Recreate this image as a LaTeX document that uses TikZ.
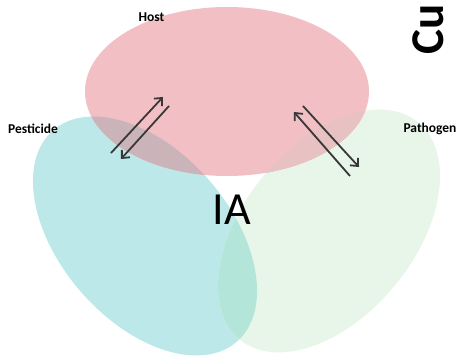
\documentclass[tikz,border=0pt]{standalone}
\usepackage{fontspec}
\setmainfont{Carlito}
\usetikzlibrary{arrows.meta}
\definecolor{hostc}{HTML}{F2C0C4}
\definecolor{pestc}{HTML}{BDE8EA}
\definecolor{pathc}{HTML}{E8F5E9}
\definecolor{hpc}{HTML}{CBB4B9}
\definecolor{hgc}{HTML}{E8C2C3}
\definecolor{pgc}{HTML}{B3E6D8}
\definecolor{arrc}{HTML}{383838}
\tikzset{
  lbl/.style={font=\bfseries\fontsize{13.5}{14}\selectfont, inner sep=0pt},
  flow/.style={draw=arrc, line width=1.8pt, -{Straight Barb[length=6pt,width=11pt]}}
}
\def\hostpath{(227,91.5) ellipse [x radius=142pt, y radius=84.5pt]}
\def\pestpath{[rotate around={-49:(145,236)}] (145,236) ellipse [x radius=140pt, y radius=85pt]}
\def\pathpath{[rotate around={50.6:(329,231)}] (329,231) ellipse [x radius=140.5pt, y radius=85.5pt]}
\begin{document}
\begin{tikzpicture}[x=1pt,y=-1pt]
\useasboundingbox (0,0) rectangle (459,358);
\fill[white] (0,0) rectangle (459,358);
% base shapes
\fill[pestc] \pestpath;
\fill[pathc] \pathpath;
\fill[hostc] \hostpath;
% overlaps
\begin{scope}
  \clip \pestpath;
  \fill[hpc] \hostpath;
\end{scope}
\begin{scope}
  \clip \pathpath;
  \fill[hgc] \hostpath;
\end{scope}
\begin{scope}
  \clip \pestpath;
  \fill[pgc] \pathpath;
\end{scope}
% labels
\node[lbl] (host) at (151.5,17) {Host};
\node[lbl] (pest) at (33,129) {Pesticide};
\node[lbl] (path) at (430,129) {Pathogen};
\node[inner sep=0pt, font=\fontsize{46}{46}\selectfont] (ia) at (232,210) {IA};
\node[inner sep=0pt, font=\bfseries\fontsize{47}{47}\selectfont, rotate=90, anchor=base west] (cu) at (443,55) {Cu};
% arrow end points
\coordinate (a1s) at (111,153); \coordinate (a1e) at (163,97);
\coordinate (a2s) at (169,106); \coordinate (a2e) at (121,159);
\coordinate (a3s) at (350,176); \coordinate (a3e) at (294,112);
\coordinate (a4s) at (303,106); \coordinate (a4e) at (359,167);
\draw[flow] (a1s) -- (a1e);
\draw[flow] (a2s) -- (a2e);
\draw[flow] (a3s) -- (a3e);
\draw[flow] (a4s) -- (a4e);
\end{tikzpicture}
\end{document}
